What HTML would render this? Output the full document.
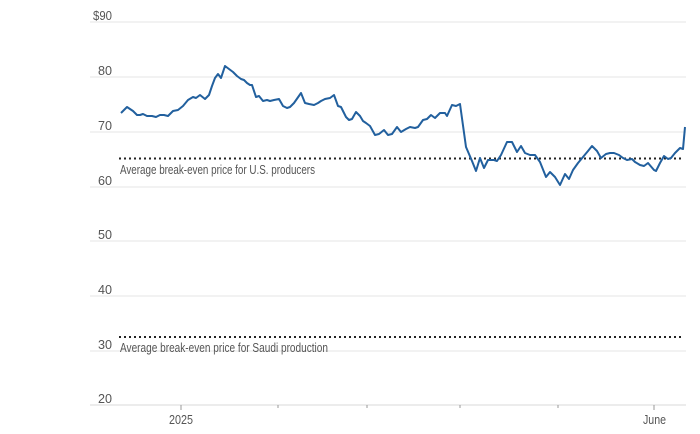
<!DOCTYPE html>
<html><head><meta charset="utf-8"><style>
html,body{margin:0;padding:0;background:#fff;}
svg{display:block;}
text{font-family:"Liberation Sans Narrow","Liberation Sans",sans-serif;fill:#555;font-size:12.5px;}
</style></head><body>
<svg width="700" height="434" viewBox="0 0 700 434">
<g stroke="#e6e6e6" stroke-width="1">
<line x1="90" x2="686" y1="22" y2="22"/>
<line x1="90" x2="686" y1="77" y2="77"/>
<line x1="90" x2="686" y1="132" y2="132"/>
<line x1="90" x2="686" y1="187" y2="187"/>
<line x1="90" x2="686" y1="241" y2="241"/>
<line x1="90" x2="686" y1="296" y2="296"/>
<line x1="90" x2="686" y1="351" y2="351"/>
</g>
<line x1="90" x2="686" y1="405" y2="405" stroke="#d8d8d8"/>
<g stroke="#999" stroke-width="1">
<line x1="181" x2="181" y1="405" y2="410"/>
<line x1="278" x2="278" y1="405" y2="408"/>
<line x1="367" x2="367" y1="405" y2="408"/>
<line x1="460" x2="460" y1="405" y2="408"/>
<line x1="558" x2="558" y1="405" y2="408"/>
<line x1="654" x2="654" y1="405" y2="410"/>
</g>
<text x="93" y="20" textLength="19" lengthAdjust="spacingAndGlyphs">$90</text>
<text x="98" y="75" textLength="14" lengthAdjust="spacingAndGlyphs">80</text>
<text x="98" y="130" textLength="14" lengthAdjust="spacingAndGlyphs">70</text>
<text x="98" y="185" textLength="14" lengthAdjust="spacingAndGlyphs">60</text>
<text x="98" y="239" textLength="14" lengthAdjust="spacingAndGlyphs">50</text>
<text x="98" y="294" textLength="14" lengthAdjust="spacingAndGlyphs">40</text>
<text x="98" y="349" textLength="14" lengthAdjust="spacingAndGlyphs">30</text>
<text x="98" y="403" textLength="14" lengthAdjust="spacingAndGlyphs">20</text>
<text x="169" y="424" textLength="24" lengthAdjust="spacingAndGlyphs">2025</text>
<text x="643" y="424" textLength="23" lengthAdjust="spacingAndGlyphs">June</text>
<line x1="119" x2="684" y1="158.5" y2="158.5" stroke="#222" stroke-width="2" stroke-dasharray="2,3"/>
<line x1="119" x2="684" y1="337" y2="337" stroke="#222" stroke-width="2" stroke-dasharray="2,3"/>
<text x="120" y="174" textLength="195" lengthAdjust="spacingAndGlyphs">Average break-even price for U.S. producers</text>
<text x="120" y="352" textLength="208" lengthAdjust="spacingAndGlyphs">Average break-even price for Saudi production</text>
<polyline fill="none" stroke="#22609e" stroke-width="2" stroke-linejoin="round" points="121,113 127,107 133,111 137,115 140,115 143,114 147,116 152,116 156,117 160,115 164,115 168,116 173,111 178,110 183,106 188,100 193,97 196,98 200,95 205,99 209,95 212,86 215,78 218,74 221,78 225,66 229,69 233,72 237,76 241,79 244,80 247,83 250,85 252,85 256,97 259,96 263,101 267,100 270,101 274,100 279,99 283,106 287,108 290,107 294,103 301,93 305,103 309,104 314,105 318,103 321,101 325,99 330,98 334,95 338,106 341,107 346,117 349,120 352,119 356,112 360,116 363,121 366,123 370,126 375,135 379,134 384,130 388,135 392,134 397,127 401,132 406,129 410,127 415,128 418,127 423,120 427,119 431,115 435,118 440,113 445,113 447,116 452,105 456,106 460,104 466,147 472,161 476,171 480,158 484,168 488,160 494,160 497,161 501,155 507,142 512,142 517,152 521,146 525,153 530,155 535,155 540,162 546,177 550,172 555,177 560,185 565,174 569,179 573,170 578,163 583,157 588,151 592,146 597,151 601,158 606,154 610,153 614,153 619,155 623,158 627,160 632,159 635,162 640,165 644,166 648,163 654,170 656,171 660,163 664,156 668,159 671,158 675,153 680,148 683,149 685,127"/>
</svg>
</body></html>
